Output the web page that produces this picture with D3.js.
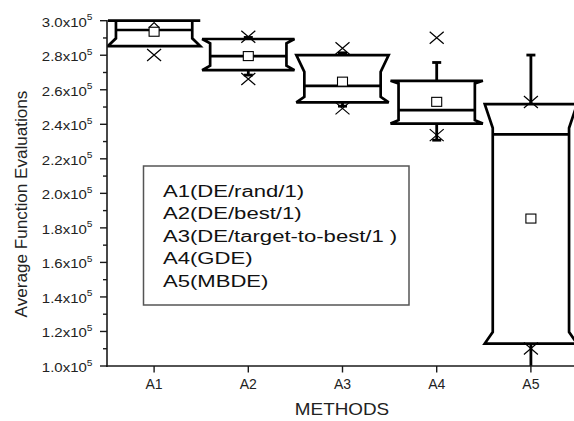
<!DOCTYPE html>
<html>
<head>
<meta charset="utf-8">
<script src="https://cdn.jsdelivr.net/npm/d3@7"></script>
<style>
  html, body { margin: 0; padding: 0; background: #fff; }
  svg { display: block; font-family: "Liberation Sans", Arial, sans-serif; }
</style>
</head>
<body>
<svg id="chart" width="574" height="421"></svg>
<script>
// Methods compared
const categories = ["A1", "A2", "A3", "A4", "A5"];
const legendLabels = [
  "A1(DE/rand/1)",
  "A2(DE/best/1)",
  "A3(DE/target-to-best/1 )",
  "A4(GDE)",
  "A5(MBDE)"
];

// Box statistics (function evaluations)
const q3Values      = [300000, 289400, 280100, 265200, 251700];
const notchHiValues = [300000, 286900, 270400, 263600, 237800];
const medianValues  = [294600, 279500, 262300, 248200, 234200];
const notchLoValues = [289800, 273900, 255900, 242400, 119700];
const q1Values      = [285300, 271400, 252700, 240400, 113000];
const meanValues    = [293600, 279500, 264700, 253000, 185400];
const whiskerHi     = [null, 290300, 281400, 275800, 280100];
const whiskerLo     = [null, 268500, 250500, 230800, 95000];
const maxMarks      = [null, 290700, 284000, 290100, 252900];
const minMarks      = [280100, 266200, 249200, 233700, 110100];
const peakMarks     = [298900, null, null, null, null];

// Y axis ticks
const yMajorTicks = [100000, 120000, 140000, 160000, 180000, 200000, 220000, 240000, 260000, 280000, 300000];
const yTickMantissa = ["1.0", "1.2", "1.4", "1.6", "1.8", "2.0", "2.2", "2.4", "2.6", "2.8", "3.0"];

const svg = d3.select("#chart");

const x = d3.scaleLinear().domain([0.5, 5.5]).range([107, 578]);
const y = d3.scaleLinear().domain([100000, 300000]).range([366, 20.7]);
const step = x(2) - x(1);
const halfFull = step * 0.49;
const halfIndent = step * 0.405;

const ink = "#000";
const axisInk = "#1a1a1a";

// clip region for plot area
svg.append("defs").append("clipPath").attr("id", "plotClip")
  .append("rect").attr("x", 107).attr("y", 19).attr("width", 480).attr("height", 347);

const plot = svg.append("g").attr("clip-path", "url(#plotClip)");

const rows = categories.map((c, i) => ({
  c, i,
  cx: x(i + 1),
  q3: q3Values[i], nHi: notchHiValues[i], med: medianValues[i],
  nLo: notchLoValues[i], q1: q1Values[i], mean: meanValues[i],
  wHi: whiskerHi[i], wLo: whiskerLo[i],
  maxM: maxMarks[i], minM: minMarks[i], peak: peakMarks[i]
}));

// whiskers
rows.forEach(d => {
  if (d.wHi != null) {
    plot.append("line").attr("x1", d.cx).attr("x2", d.cx)
      .attr("y1", y(d.q3)).attr("y2", y(d.wHi))
      .attr("stroke", ink).attr("stroke-width", 2.8);
    plot.append("line").attr("x1", d.cx - 4.5).attr("x2", d.cx + 4.5)
      .attr("y1", y(d.wHi)).attr("y2", y(d.wHi))
      .attr("stroke", ink).attr("stroke-width", 2.8);
  }
  if (d.wLo != null) {
    plot.append("line").attr("x1", d.cx).attr("x2", d.cx)
      .attr("y1", y(d.q1)).attr("y2", y(d.wLo))
      .attr("stroke", ink).attr("stroke-width", 2.8);
    plot.append("line").attr("x1", d.cx - 4.5).attr("x2", d.cx + 4.5)
      .attr("y1", y(d.wLo)).attr("y2", y(d.wLo))
      .attr("stroke", ink).attr("stroke-width", 2.8);
  }
});

// notched boxes
rows.forEach(d => {
  const p = d3.path();
  p.moveTo(d.cx - halfFull, y(d.q3));
  p.lineTo(d.cx + halfFull, y(d.q3));
  p.lineTo(d.cx + halfIndent, y(d.nHi));
  p.lineTo(d.cx + halfIndent, y(d.nLo));
  p.lineTo(d.cx + halfFull, y(d.q1));
  p.lineTo(d.cx - halfFull, y(d.q1));
  p.lineTo(d.cx - halfIndent, y(d.nLo));
  p.lineTo(d.cx - halfIndent, y(d.nHi));
  p.closePath();
  plot.append("path").attr("d", p.toString())
    .attr("fill", "none").attr("stroke", ink)
    .attr("stroke-width", 2.7).attr("stroke-linejoin", "miter").attr("stroke-miterlimit", 3);
  plot.append("line")
    .attr("x1", d.cx - halfIndent).attr("x2", d.cx + halfIndent)
    .attr("y1", y(d.med)).attr("y2", y(d.med))
    .attr("stroke", ink).attr("stroke-width", 2.7);
});

// extreme markers (x shapes)
function cross(g, cx, cy) {
  g.append("path")
    .attr("d", `M${cx - 7},${cy - 6}L${cx + 7},${cy + 6}M${cx - 7},${cy + 6}L${cx + 7},${cy - 6}`)
    .attr("stroke", ink).attr("stroke-width", 1.2).attr("fill", "none");
}
rows.forEach(d => {
  if (d.maxM != null) cross(plot, d.cx, y(d.maxM));
  if (d.minM != null) cross(plot, d.cx, y(d.minM));
});

// mean markers
rows.forEach(d => {
  const my = y(d.mean);
  if (d.peak != null) {
    const py = y(d.peak);
    plot.append("path")
      .attr("d", `M${d.cx - 5},${my - 4}L${d.cx - 5},${py + 5}L${d.cx},${py}L${d.cx + 5},${py + 5}L${d.cx + 5},${my - 4}`)
      .attr("fill", "none").attr("stroke", ink).attr("stroke-width", 1.2);
  }
  plot.append("rect")
    .attr("x", d.cx - 5).attr("y", my - 4.5).attr("width", 10).attr("height", 9)
    .attr("fill", "#fff").attr("stroke", ink).attr("stroke-width", 1.1);
});

// y axis
const yAxis = svg.append("g");
yAxis.append("line").attr("x1", 107).attr("x2", 107).attr("y1", 20).attr("y2", 367)
  .attr("stroke", axisInk).attr("stroke-width", 1.6);
const minorTicks = d3.range(110000, 300000, 20000);
minorTicks.forEach(v => {
  yAxis.append("line").attr("x1", 103).attr("x2", 107).attr("y1", y(v)).attr("y2", y(v))
    .attr("stroke", axisInk).attr("stroke-width", 1.4);
});
yMajorTicks.forEach((v, i) => {
  yAxis.append("line").attr("x1", 100).attr("x2", 107).attr("y1", y(v)).attr("y2", y(v))
    .attr("stroke", axisInk).attr("stroke-width", 1.4);
  const t = yAxis.append("text")
    .attr("transform", `translate(92.5,${y(v) + 6}) scale(1.2,1)`)
    .attr("text-anchor", "end")
    .attr("font-size", 12.5)
    .attr("fill", "#222");
  t.append("tspan").text(yTickMantissa[i] + "x10");
  t.append("tspan").attr("font-size", 8.5).attr("dy", -6.5).text("5");
});

// x axis
const xAxis = svg.append("g");
xAxis.append("line").attr("x1", 106).attr("x2", 574).attr("y1", 366).attr("y2", 366)
  .attr("stroke", axisInk).attr("stroke-width", 1.6);
categories.forEach((c, i) => {
  const cx = x(i + 1);
  xAxis.append("line").attr("x1", cx).attr("x2", cx).attr("y1", 366).attr("y2", 372.5)
    .attr("stroke", axisInk).attr("stroke-width", 1.4);
  xAxis.append("text").attr("x", cx).attr("y", 389.3)
    .attr("text-anchor", "middle").attr("font-size", 14).attr("fill", "#222").text(c);
});

// axis titles
svg.append("text")
  .attr("transform", "translate(342,415) scale(1.18,1)")
  .attr("text-anchor", "middle").attr("font-size", 16).attr("fill", "#222")
  .text("METHODS");
svg.append("text")
  .attr("transform", "translate(26.7,204) rotate(-90) scale(1.07,1)")
  .attr("text-anchor", "middle").attr("font-size", 16).attr("fill", "#222")
  .text("Average Function Evaluations");

// legend
const legend = svg.append("g");
legend.append("rect").attr("x", 143.5).attr("y", 166).attr("width", 265.5).attr("height", 139)
  .attr("fill", "#fff").attr("stroke", "#555").attr("stroke-width", 1.5);
legendLabels.forEach((lab, i) => {
  legend.append("text")
    .attr("transform", `translate(163,${196.7 + i * 22.5}) scale(1.38,1)`)
    .attr("font-size", 16).attr("fill", "#111").text(lab);
});
</script>
</body>
</html>
